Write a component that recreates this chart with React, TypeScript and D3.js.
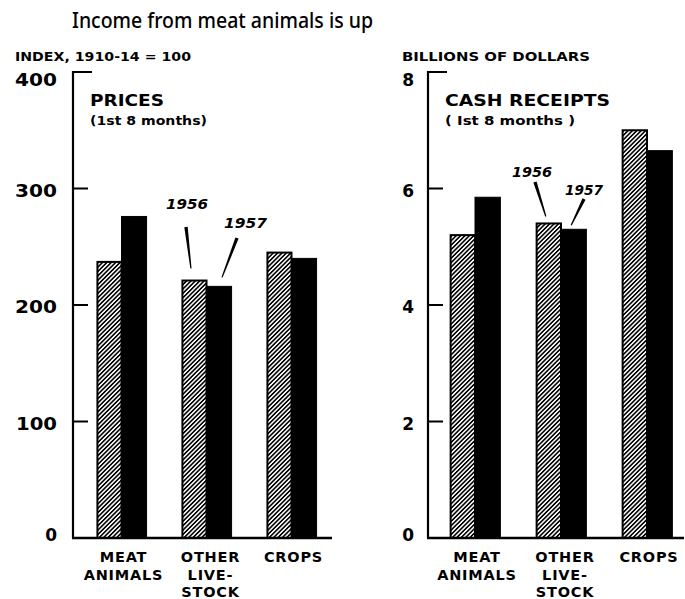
import React from "react";
import * as d3 from "d3";

const categories = ["MEAT ANIMALS", "OTHER LIVESTOCK", "CROPS"];
const categoryLines = [["MEAT", "ANIMALS"], ["OTHER", "LIVE-", "STOCK"], ["CROPS"]];
const years = ["1956", "1957"];

const prices1956 = [237, 221, 245];
const prices1957 = [276, 216, 240];
const priceTicks = [0, 100, 200, 300, 400];

const cash1956 = [5.2, 5.4, 7.0];
const cash1957 = [5.85, 5.3, 6.65];
const cashTicks = [0, 2, 4, 6, 8];

const W = 685;
const H = 599;
const FONT = "'DejaVu Sans', sans-serif";

function taper(x1: number, y1: number, x2: number, y2: number, w1: number, w2: number) {
  const dx = x2 - x1, dy = y2 - y1;
  const len = Math.hypot(dx, dy);
  const nx = -dy / len, ny = dx / len;
  const p = d3.path();
  p.moveTo(x1 + nx * w1 / 2, y1 + ny * w1 / 2);
  p.lineTo(x2 + nx * w2 / 2, y2 + ny * w2 / 2);
  p.lineTo(x2 - nx * w2 / 2, y2 - ny * w2 / 2);
  p.lineTo(x1 - nx * w1 / 2, y1 - ny * w1 / 2);
  p.closePath();
  return p.toString();
}

type PanelProps = {
  axisX: number;
  xRange: [number, number];
  yMax: number;
  ticks: number[];
  v1956: number[];
  v1957: number[];
  unitLabel: string;
  unitLabelWidth: number;
  unitLabelX: number;
  title: string;
  titleWidth: number;
  sub: string;
  subWidth: number;
  baselineEnd: number;
  tickLabelRight: number;
  tickLabelWidths: (number | null)[];
  annot: { cat: number; year: number; tx: number; ty: number; tw: number; x1: number; y1: number; dx: number; dy: number }[];
};

function Panel(p: PanelProps) {
  const y = d3.scaleLinear().domain([0, p.yMax]).range([538, 72]);
  const x0 = d3.scaleBand<string>().domain(categories).range(p.xRange).paddingInner(0.41).paddingOuter(0.205);
  const x1 = d3.scaleBand<string>().domain(years).range([0, x0.bandwidth()]);
  const data = categories.map((c, i) => ({ c, vals: [p.v1956[i], p.v1957[i]] }));
  return (
    <g>
      <text x={p.unitLabelX} y={61} fontFamily={FONT} fontWeight="bold" fontSize={11.5}
        textLength={p.unitLabelWidth} lengthAdjust="spacingAndGlyphs">{p.unitLabel}</text>
      <text x={p.axisX + 17} y={106} fontFamily={FONT} fontWeight="bold" fontSize={16.5}
        textLength={p.titleWidth} lengthAdjust="spacingAndGlyphs">{p.title}</text>
      <text x={p.axisX + 17} y={125} fontFamily={FONT} fontWeight="bold" fontSize={12.5}
        textLength={p.subWidth} lengthAdjust="spacingAndGlyphs">{p.sub}</text>
      {/* bars */}
      {data.map((d) => (
        <g key={d.c} transform={`translate(${x0(d.c)},0)`}>
          {years.map((yr, j) => (
            <rect key={yr} x={x1(yr)! + (j === 0 ? 1 : 0)} y={y(d.vals[j])}
              width={x1.bandwidth() - (j === 0 ? 1 : 0)} height={y(0) - y(d.vals[j])}
              fill={j === 0 ? "url(#hatch)" : "#000"} stroke="#000" strokeWidth={j === 0 ? 2 : 1} />
          ))}
        </g>
      ))}
      {/* axis */}
      <line x1={p.axisX} x2={p.axisX} y1={y(p.yMax) - 1} y2={y(0)} stroke="#000" strokeWidth={2.2} />
      {p.ticks.map((t, i) => {
        const w = p.tickLabelWidths[i];
        return (
          <g key={t}>
            {t > 0 && (
              <line x1={p.axisX} x2={p.axisX + (t === p.yMax ? 19 : 15)} y1={y(t)} y2={y(t)} stroke="#000" strokeWidth={2} />
            )}
            <text x={p.tickLabelRight} y={y(t) + (t === p.yMax ? 8 : t === 0 ? -3 : 2)} textAnchor="end" dominantBaseline="central"
              fontFamily={FONT} fontWeight="bold" fontSize={17}
              {...(w ? { textLength: w, lengthAdjust: "spacingAndGlyphs" } : {})}>{t}</text>
          </g>
        );
      })}
      <line x1={p.axisX - 1} x2={p.baselineEnd} y1={y(0)} y2={y(0)} stroke="#000" strokeWidth={2.6} />
      {/* category labels */}
      {categoryLines.map((lines, i) => (
        <text key={i} textAnchor="middle" fontFamily={FONT} fontWeight="bold" fontSize={14.5} letterSpacing={0.8}>
          {lines.map((l, k) => (
            <tspan key={k} x={x0(categories[i])! + x0.bandwidth() / 2 + (i === 1 ? 4 : 2)} y={562 + k * 17.5}>{l}</tspan>
          ))}
        </text>
      ))}
      {/* annotations */}
      {p.annot.map((a, k) => {
        const bx = x0(categories[a.cat])! + x1(years[a.year])! + x1.bandwidth() / 2 + a.dx;
        const by = y(a.year === 0 ? p.v1956[a.cat] : p.v1957[a.cat]) + a.dy;
        return (
          <g key={k}>
            <text x={a.tx} y={a.ty} fontFamily={FONT} fontWeight="bold" fontStyle="italic" fontSize={14.5}
              textLength={a.tw} lengthAdjust="spacingAndGlyphs">{years[a.year]}</text>
            <path d={taper(a.x1, a.y1, bx, by, 3.4, 1.2)} fill="#000" />
          </g>
        );
      })}
    </g>
  );
}

export default function App() {
  return (
    <svg width={W} height={H} viewBox={`0 0 ${W} ${H}`}
      style={{ position: "absolute", left: 0, top: 0, background: "#fff" }}>
      <defs>
        <pattern id="hatch" width={3.1} height={3.1} patternUnits="userSpaceOnUse" patternTransform="rotate(45)">
          <rect x={0} y={0} width={3.1} height={3.1} fill="#fff" />
          <rect x={0} y={0} width={1.6} height={3.1} fill="#000" />
        </pattern>
      </defs>
      <rect x={0} y={0} width={W} height={H} fill="#fff" />
      <text x={72} y={28} fontFamily="'Noto Sans', sans-serif" fontWeight={500} fontSize={22}
        textLength={301} lengthAdjust="spacingAndGlyphs">Income from meat animals is up</text>
      <Panel
        axisX={73}
        xRange={[79, 334]}
        yMax={400}
        ticks={priceTicks}
        v1956={prices1956}
        v1957={prices1957}
        unitLabel="INDEX, 1910-14 = 100"
        unitLabelWidth={176}
        unitLabelX={15}
        title="PRICES"
        titleWidth={74}
        sub="(1st 8 months)"
        subWidth={117}
        baselineEnd={332}
        tickLabelRight={57}
        tickLabelWidths={[null, 41, 42, 42, 42]}
        annot={[
          { cat: 1, year: 0, tx: 166, ty: 209, tw: 42, x1: 186, y1: 227, dx: -3, dy: -12 },
          { cat: 1, year: 1, tx: 224, ty: 228, tw: 43, x1: 237, y1: 238, dx: 3, dy: -9 },
        ]}
      />
      <Panel
        axisX={428}
        xRange={[432, 690]}
        yMax={8}
        ticks={cashTicks}
        v1956={cash1956}
        v1957={cash1957}
        unitLabel="BILLIONS OF DOLLARS"
        unitLabelWidth={188}
        unitLabelX={402}
        title="CASH RECEIPTS"
        titleWidth={165}
        sub="( Ist 8 months )"
        subWidth={130}
        baselineEnd={684}
        tickLabelRight={414}
        tickLabelWidths={[null, null, null, null, null]}
        annot={[
          { cat: 1, year: 0, tx: 512, ty: 177, tw: 40, x1: 535, y1: 182, dx: -2.5, dy: -7 },
          { cat: 1, year: 1, tx: 565, ty: 195, tw: 38, x1: 584, y1: 199, dx: -2.5, dy: -4 },
        ]}
      />
    </svg>
  );
}
